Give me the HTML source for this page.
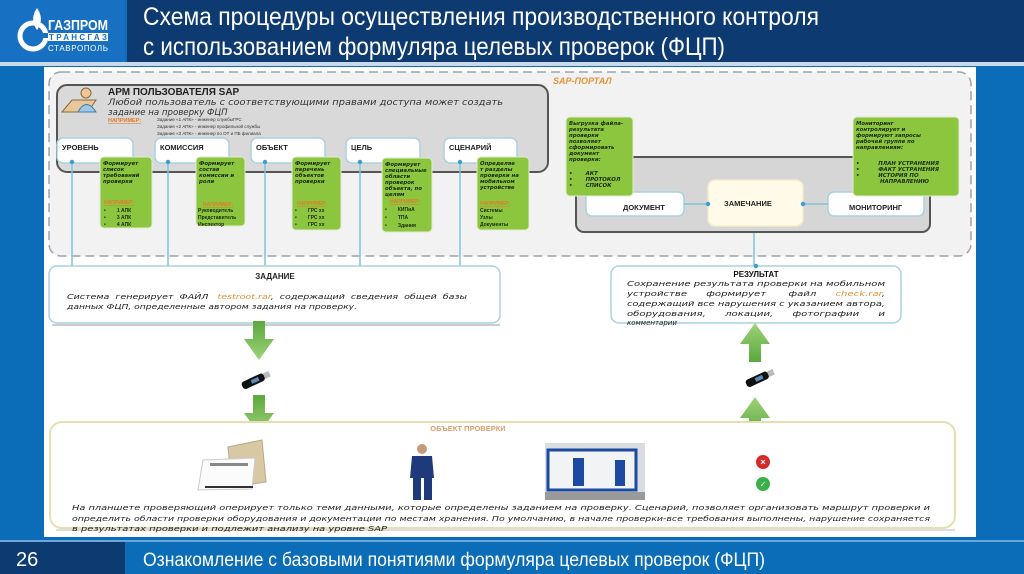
<!DOCTYPE html>
<html><head><meta charset="utf-8"><style>
html,body{margin:0;padding:0;background:#0b6cb8;}
svg{display:block;font-family:"Liberation Sans","DejaVu Sans",sans-serif;}
svg text{white-space:pre}
.b{font-weight:bold}
.i{font-style:italic}
.d{font-family:"DejaVu Sans","Liberation Sans",sans-serif}
</style></head><body>
<svg width="1024" height="574" viewBox="0 0 1024 574" xmlns="http://www.w3.org/2000/svg">
<defs>
<linearGradient id="ga" x1="0" y1="0" x2="0" y2="1"><stop offset="0" stop-color="#5aa83c"/><stop offset="1" stop-color="#9fd27a"/></linearGradient>
<linearGradient id="gu" x1="0" y1="1" x2="0" y2="0"><stop offset="0" stop-color="#5aa83c"/><stop offset="1" stop-color="#9fd27a"/></linearGradient>
</defs>
<rect x="0" y="0" width="1024" height="574" fill="#0b6cb8"/>
<rect x="0" y="0" width="125" height="62" fill="#1770c2"/>
<rect x="127" y="0" width="897" height="62" fill="#0e3a72"/>
<rect x="0" y="62" width="1024" height="4" fill="#c9d9ea"/>
<!-- logo -->
<circle cx="33" cy="36" r="13" fill="none" stroke="#fff" stroke-width="5"/>
<rect x="33" y="33" width="16" height="5" fill="#1770c2"/>
<path d="M37 8 C30 18 34 26 37 30 C40 26 44 18 37 8Z" fill="#fff"/>
<text x="48" y="30" fill="#fff" class="b" font-size="15" textLength="60" lengthAdjust="spacingAndGlyphs">ГАЗПРОМ</text>
<rect x="48" y="33" width="60" height="8" fill="#fff"/>
<text x="49" y="40" fill="#1770c2" class="b" font-size="8" textLength="58" lengthAdjust="spacing">ТРАНСГАЗ</text>
<text x="48" y="51" fill="#fff" font-size="8" textLength="60" lengthAdjust="spacing">СТАВРОПОЛЬ</text>
<!-- title -->
<text x="143" y="25" fill="#fff" font-size="25" textLength="676" lengthAdjust="spacingAndGlyphs">Схема процедуры осуществления производственного контроля</text>
<text x="143" y="55" fill="#fff" font-size="25" textLength="582" lengthAdjust="spacingAndGlyphs">с использованием формуляра целевых проверок (ФЦП)</text>
<!-- content panel -->
<rect x="44" y="67" width="932" height="470" fill="#fff"/>
<rect x="49" y="72" width="922" height="184" rx="12" fill="#f2f2f2" stroke="#9aa3ab" stroke-width="1.5" stroke-dasharray="9,5"/>
<text x="553" y="84" fill="#e7913a" class="b i" font-size="9">SAP-ПОРТАЛ</text>
<!-- ARM box -->
<rect x="57" y="85" width="491" height="87" rx="10" fill="#d9d9d9" stroke="#555" stroke-width="2"/>
<path d="M62 112 L72 100 L96 100 L88 112Z" fill="#e8c89a" stroke="#8a6a3a"/>
<circle cx="86" cy="93" r="5" fill="#f0c59a" stroke="#8a6a3a"/>
<path d="M78 112 Q86 97 96 112Z" fill="#9ec8e8" stroke="#4a7aa8"/>
<text x="108" y="95" class="b" font-size="10" fill="#222">АРМ ПОЛЬЗОВАТЕЛЯ SAP</text>
<text x="108" y="105" class="i d" font-size="8.6" fill="#333" textLength="395" lengthAdjust="spacingAndGlyphs">Любой пользователь с соответствующими правами доступа может создать</text>
<text x="108" y="115" class="i d" font-size="8.6" fill="#333">задание на проверку ФЦП</text>
<text x="108" y="122" class="b" font-size="5.5" fill="#e07a2a" text-decoration="underline">НАПРИМЕР:</text>
<text x="157" y="121" font-size="4.5" fill="#333">Задание «1 АПК» - инженер службыГРС</text>
<text x="157" y="128" font-size="4.5" fill="#333">Задание «2 АПК» - инженер профильной службы</text>
<text x="157" y="135" font-size="4.5" fill="#333">Задание «3 АПК» - инженер по ОТ и ПБ филиала</text>
<g stroke="#7fc4da" stroke-width="1.5">
<line x1="72" y1="162" x2="72" y2="266"/>
<line x1="168" y1="162" x2="168" y2="266"/>
<line x1="265" y1="162" x2="265" y2="266"/>
<line x1="360" y1="162" x2="360" y2="266"/>
<line x1="460" y1="162" x2="460" y2="266"/>
<line x1="754" y1="226" x2="754" y2="268"/>
</g>
<g fill="#fff" stroke="#a8d2e2" stroke-width="1.5">
<rect x="57" y="138" width="76" height="25" rx="6"/>
<rect x="155" y="138" width="74" height="25" rx="6"/>
<rect x="251" y="138" width="74" height="25" rx="6"/>
<rect x="346" y="138" width="74" height="25" rx="6"/>
<rect x="444" y="138" width="73" height="25" rx="6"/>
</g>
<g class="b" font-size="7.5" fill="#222">
<text x="62" y="150">УРОВЕНЬ</text>
<text x="160" y="150">КОМИССИЯ</text>
<text x="256" y="150">ОБЪЕКТ</text>
<text x="351" y="150">ЦЕЛЬ</text>
<text x="449" y="150">СЦЕНАРИЙ</text>
</g>
<g fill="#3a9fd0"><circle cx="72" cy="162" r="2.2"/><circle cx="168" cy="162" r="2.2"/><circle cx="265" cy="162" r="2.2"/><circle cx="360" cy="162" r="2.2"/><circle cx="460" cy="162" r="2.2"/></g>
<g fill="#8cc63f" stroke="#dfe9d0" stroke-width="1">
<rect x="100" y="157" width="52" height="71" rx="4"/>
<rect x="196" y="157" width="49" height="69" rx="4"/>
<rect x="292" y="157" width="49" height="73" rx="4"/>
<rect x="382" y="158" width="50" height="74" rx="4"/>
<rect x="477" y="157" width="52" height="73" rx="4"/>
</g>
<g class="b i d" font-size="5.4" fill="#1a2a10">
<text x="103" y="165">Формирует</text><text x="103" y="171">список</text><text x="103" y="177">требований</text><text x="103" y="183">проверки</text>
<text x="199" y="165">Формирует</text><text x="199" y="171">состав</text><text x="199" y="177">комиссии и</text><text x="199" y="183">роли</text>
<text x="295" y="165">Формирует</text><text x="295" y="171">перечень</text><text x="295" y="177">объектов</text><text x="295" y="183">проверки</text>
<text x="385" y="166">Формирует</text><text x="385" y="172">специальные</text><text x="385" y="178">области</text><text x="385" y="184">проверок</text><text x="385" y="190">объекта, по</text><text x="385" y="196">целям</text>
<text x="480" y="165">Определяе</text><text x="480" y="171">т разделы</text><text x="480" y="177">проверки на</text><text x="480" y="183">мобильном</text><text x="480" y="189">устройстве</text>
</g>
<g class="b" font-size="5" fill="#e07a2a" text-decoration="underline">
<text x="104" y="204">НАПРИМЕР:</text><text x="203" y="206">НАПРИМЕР:</text><text x="297" y="205">НАПРИМЕР:</text><text x="390" y="203">НАПРИМЕР:</text><text x="480" y="205">НАПРИМЕР:</text>
</g>
<g class="b" font-size="5" fill="#1a2a10">
<text x="104" y="212">•        1 АПК</text><text x="104" y="219">•        3 АПК</text><text x="104" y="226">•        4 АПК</text>
<text x="198" y="212">Руководитель</text><text x="198" y="219">Представитель</text><text x="198" y="226">Инспектор</text>
<text x="295" y="212">•        ГРС хх</text><text x="295" y="219">•        ГРС хх</text><text x="295" y="226">•        ГРС хх</text>
<text x="385" y="211">•        КИПиА</text><text x="385" y="219">•        ТПА</text><text x="385" y="227">•        Здания</text>
<text x="480" y="212">Системы</text><text x="480" y="219">Узлы</text><text x="480" y="226">Документы</text>
</g>
<!-- right portal part -->
<rect x="576" y="157" width="354" height="75" rx="8" fill="#d6d6d6" stroke="#555" stroke-width="2"/>
<rect x="586" y="192" width="98" height="24" rx="6" fill="#fff" stroke="#a8d2e2" stroke-width="1.5"/>
<rect x="828" y="192" width="96" height="24" rx="6" fill="#fff" stroke="#a8d2e2" stroke-width="1.5"/>
<line x1="684" y1="204" x2="828" y2="204" stroke="#7fc4da" stroke-width="1.5"/>
<rect x="708" y="180" width="95" height="46" rx="7" fill="#fffbe8" stroke="#f3ecc8" stroke-width="1.5"/>
<circle cx="708" cy="204" r="2.2" fill="#3a9fd0"/><circle cx="803" cy="204" r="2.2" fill="#3a9fd0"/>
<text x="623" y="210" class="b" font-size="7.5" fill="#222">ДОКУМЕНТ</text>
<text x="724" y="206" class="b" font-size="7.5" fill="#222">ЗАМЕЧАНИЕ</text>
<text x="849" y="210" class="b" font-size="7.5" fill="#222">МОНИТОРИНГ</text>
<rect x="566" y="117" width="67" height="79" rx="4" fill="#8cc63f" stroke="#dfe9d0"/>
<rect x="853" y="117" width="106" height="79" rx="4" fill="#8cc63f" stroke="#dfe9d0"/>
<g class="b i d" font-size="5.4" fill="#1a2a10">
<text x="569" y="125">Выгрузка файла-</text><text x="569" y="131">результата</text><text x="569" y="137">проверки</text><text x="569" y="143">позволяет</text><text x="569" y="149">сформировать</text><text x="569" y="155">документ</text><text x="569" y="161">проверки:</text>
<text x="569" y="175">•       АКТ</text><text x="569" y="181">•       ПРОТОКОЛ</text><text x="569" y="187">•       СПИСОК</text>
<text x="856" y="125">Мониторинг</text><text x="856" y="131">контролирует и</text><text x="856" y="137">формируют запросы</text><text x="856" y="143">рабочей группе по</text><text x="856" y="149">направлениям:</text>
<text x="856" y="165">•          ПЛАН УСТРАНЕНИЯ</text><text x="856" y="171">•          ФАКТ УСТРАНЕНИЯ</text><text x="856" y="177">•          ИСТОРИЯ ПО</text><text x="880" y="183">НАПРАВЛЕНИЮ</text>
</g>
<!-- ЗАДАНИЕ -->
<rect x="49" y="266" width="451" height="57" rx="8" fill="#fff" stroke="#a8d2e2" stroke-width="1.5"/>
<line x1="52" y1="325" x2="500" y2="325" stroke="#ccc" stroke-width="2"/>
<text x="275" y="279" text-anchor="middle" class="b" font-size="8" fill="#222">ЗАДАНИЕ</text>
<text x="67" y="299" class="i d" font-size="7.4" fill="#222" textLength="400" lengthAdjust="spacingAndGlyphs">Система  генерирует  ФАЙЛ   <tspan fill="#e0913a">testroot.rar</tspan>,  содержащий  сведения  общей  базы</text>
<text x="67" y="309" class="i d" font-size="7.4" fill="#222" textLength="290" lengthAdjust="spacingAndGlyphs">данных ФЦП, определенные автором задания на проверку.</text>
<!-- РЕЗУЛЬТАТ -->
<rect x="611" y="266" width="290" height="57" rx="8" fill="#fff" stroke="#a8d2e2" stroke-width="1.5"/>
<circle cx="756" cy="266" r="2.2" fill="#3a9fd0"/>
<text x="756" y="277" text-anchor="middle" class="b" font-size="8" fill="#111">РЕЗУЛЬТАТ</text>
<g class="i d" font-size="7" fill="#222">
<text x="627" y="286" textLength="258" lengthAdjust="spacingAndGlyphs">Сохранение результата проверки на мобильном</text>
<text x="627" y="296" textLength="258" lengthAdjust="spacingAndGlyphs">устройстве      формирует       файл      <tspan fill="#e0913a">check.rar</tspan>,</text>
<text x="627" y="306" textLength="258" lengthAdjust="spacingAndGlyphs">содержащий все нарушения с указанием автора,</text>
<text x="627" y="316" textLength="258" lengthAdjust="spacingAndGlyphs">оборудования,      локации,      фотографии      и</text>
<text x="627" y="325">комментарии</text>
</g>
<!-- arrows -->
<path d="M253 321 h12 v18 h9 l-15 21 l-15 -21 h9z" fill="url(#ga)"/>
<path d="M253 395 h12 v18 h9 l-15 21 l-15 -21 h9z" fill="url(#ga)"/>
<path d="M749 362 h12 v-18 h9 l-15 -21 l-15 21 h9z" fill="url(#gu)"/>
<path d="M749 436 h12 v-18 h9 l-15 -21 l-15 21 h9z" fill="url(#gu)"/>
<g transform="translate(256 380) rotate(-25)"><rect x="-15" y="-4" width="24" height="8" rx="3" fill="#111"/><rect x="-5" y="-2" width="8" height="4" fill="#5a8ab8"/><rect x="9" y="-3" width="6" height="6" fill="#bbb"/></g>
<g transform="translate(760 378) rotate(-25)"><rect x="-15" y="-4" width="24" height="8" rx="3" fill="#111"/><rect x="-5" y="-2" width="8" height="4" fill="#5a8ab8"/><rect x="9" y="-3" width="6" height="6" fill="#bbb"/></g>
<!-- object box -->
<rect x="50" y="422" width="905" height="106" rx="12" fill="#fff" stroke="#e6e0b0" stroke-width="2"/>
<line x1="56" y1="530" x2="955" y2="530" stroke="#ddd" stroke-width="2"/>
<text x="468" y="431" text-anchor="middle" class="b" font-size="7.5" fill="#d9a070">ОБЪЕКТ ПРОВЕРКИ</text>
<!-- tablet -->
<path d="M228 447 L262 440 L266 482 L232 487Z" fill="#d8c9a4" stroke="#b8a884"/>
<path d="M203 460 L255 458 L252 489 L198 490Z" fill="#fbfbfb" stroke="#ccc"/>
<rect x="210" y="463" width="38" height="3" fill="#888"/>
<rect x="205" y="486" width="48" height="2" fill="#333"/>
<!-- person -->
<circle cx="422" cy="449" r="5" fill="#c79a7a"/>
<path d="M412 456 h20 l2 22 h-24z" fill="#1f3a7a"/>
<rect x="413" y="477" width="8" height="23" fill="#1f3a7a"/><rect x="424" y="477" width="8" height="23" fill="#1f3a7a"/>
<!-- container -->
<rect x="545" y="443" width="100" height="57" fill="#d8dde2"/>
<rect x="548" y="450" width="88" height="40" fill="#f1f3f5" stroke="#1c4aa3" stroke-width="3"/>
<rect x="573" y="458" width="11" height="28" fill="#1c4aa3"/><rect x="615" y="460" width="10" height="26" fill="#1c4aa3"/>
<rect x="545" y="492" width="100" height="8" fill="#9a9a9a"/>
<circle cx="763" cy="462" r="7" fill="#d42a2a"/><text x="763" y="465" text-anchor="middle" font-size="9" fill="#fff" class="b">×</text>
<circle cx="763" cy="484" r="7" fill="#3ab04a"/><text x="763" y="487" text-anchor="middle" font-size="8" fill="#fff" class="b">✓</text>
<g class="i d" font-size="6.8" fill="#222">
<text x="72" y="510" textLength="858" lengthAdjust="spacingAndGlyphs">На планшете проверяющий оперирует только теми данными, которые определены заданием на проверку. Сценарий, позволяет организовать маршрут проверки и</text>
<text x="72" y="521" textLength="858" lengthAdjust="spacingAndGlyphs">определить области проверки оборудования и документации по местам хранения. По умолчанию, в начале проверки-все требования выполнены, нарушение сохраняется</text>
<text x="72" y="531" textLength="315" lengthAdjust="spacingAndGlyphs">в результатах проверки и подлежит анализу на уровне SAP</text>
</g>
<!-- footer -->
<rect x="0" y="540" width="1024" height="2" fill="#6aa8dc"/>
<rect x="0" y="542" width="125" height="32" fill="#0e3a72"/>
<rect x="127" y="542" width="897" height="32" fill="#0b6cb8"/>
<text x="16" y="566" fill="#fff" font-size="20">26</text>
<text x="143" y="566" fill="#fff" font-size="19" textLength="622" lengthAdjust="spacingAndGlyphs">Ознакомление с базовыми понятиями формуляра целевых проверок (ФЦП)</text>
</svg>
</body></html>
